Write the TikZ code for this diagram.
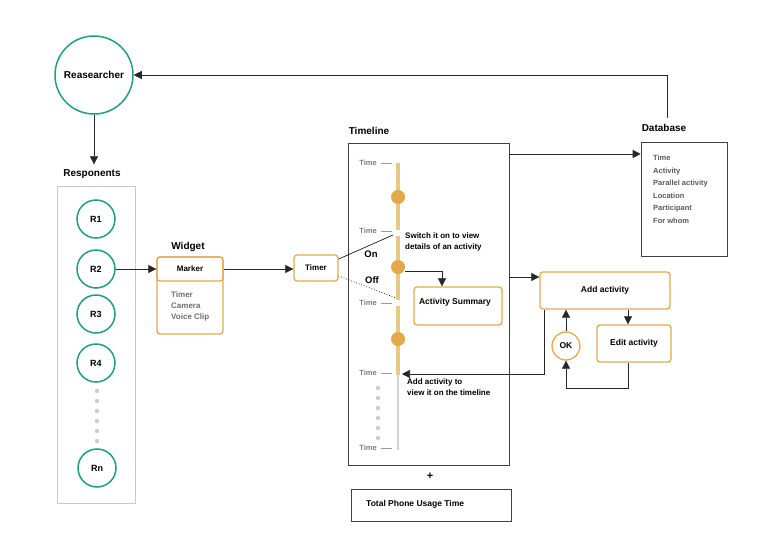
\documentclass[tikz,border=0pt]{standalone}
\usepackage{fontspec}
\setmainfont{Liberation Sans}
\usetikzlibrary{arrows.meta}
\definecolor{tealc}{HTML}{1E9E82}
\definecolor{orng}{HTML}{E2A94A}
\definecolor{barc}{HTML}{EBC689}
\definecolor{grytxt}{HTML}{6E6E6E}
\definecolor{grybox}{HTML}{C9C9C9}
\begin{document}
\begin{tikzpicture}[x=1pt,y=-1pt,
  fs/.style={font=\bfseries\fontsize{#1}{\fpeval{1.4*#1}}\selectfont},
  circ/.style={circle, draw=tealc, line width=1.5pt, inner sep=0pt, fs=9},
  obox/.style={draw=orng, line width=1.3pt, rounded corners=3pt, inner sep=0pt},
  kbox/.style={draw=black!75, line width=0.6pt, inner sep=0pt},
  arr/.style={-{Triangle[length=8pt,width=8pt]}, line width=0.6pt, draw=black!85},
  tlab/.style={fs=7.5, text=grytxt!90, inner sep=0pt},
  tick/.style={draw=grytxt!70, line width=0.6pt},
  gdot/.style={circle, fill=black!20, inner sep=0pt, minimum size=4.5pt},
  odot/.style={circle, fill=orng, inner sep=0pt, minimum size=14pt},
  title/.style={fs=10, inner sep=0pt}]
\useasboundingbox (0,0) rectangle (778,554);

% Researcher
\node[circ, minimum size=78pt, fs=10] (res) at (94,75) {Reasearcher};
\node[title] (resp) at (92,174) {Responents};
\draw[arr] (res.south) -- ([yshift=5pt]res.south |- resp.north);

% Respondents
\node[draw=grybox, line width=0.8pt, minimum width=78pt, minimum height=317pt, inner sep=0pt] (rbox) at (96,344.5) {};
\node[circ, minimum size=38pt] (r1) at (96,219) {R1};
\node[circ, minimum size=38pt] (r2) at (96,269) {R2};
\node[circ, minimum size=38pt] (r3) at (96,314) {R3};
\node[circ, minimum size=38pt] (r4) at (96,363) {R4};
\foreach \i/\y in {1/391,2/401,3/411,4/421,5/431,6/441} \node[gdot] (rd\i) at (97,\y) {};
\node[circ, minimum size=38pt] (rn) at (97,468) {Rn};

% Widget
\node[title] (wlab) at (188,247) {Widget};
\node[obox, minimum width=66pt, minimum height=77pt] (wbox) at (190,295.5) {};
\node[obox, minimum width=66pt, minimum height=24pt, fs=8] (marker) at (190,269) {Marker};
\node[fs=8, text=grytxt, anchor=north west, align=left, inner sep=0pt] (wlist) at (171,291) {Timer\\Camera\\Voice Clip};
\draw[arr] (r2.east) -- (r2.east -| marker.west);

% Timer
\node[obox, minimum width=44pt, minimum height=26pt, fs=8] (timer) at (316,268) {Timer};
\draw[arr] (marker.east) -- (marker.east -| timer.west);

% Timeline
\node[title] (tllab) at (369,131) {Timeline};
\node[kbox, minimum width=161pt, minimum height=322pt] (tl) at (428.5,304) {};
\draw[draw=barc, line width=4.5pt] (398,163) -- (398,230);
\draw[draw=barc, line width=4.5pt] (398,236) -- (398,300);
\draw[draw=barc, line width=4.5pt] (398,306) -- (398,375);
\draw[draw=black!18, line width=1.2pt] (398,375) -- (398,450);
\node[odot] (d1) at (398,197) {};
\node[odot] (d2) at (398,267) {};
\node[odot] (d3) at (398,339) {};
\foreach \i/\y in {1/163,2/231,3/303,4/373,5/448}{
  \node[tlab, anchor=east] (t\i) at (377,\y) {Time};
  \draw[tick] ([xshift=4pt]t\i.east) -- ++(11,0);
}
\foreach \i/\y in {1/388,2/398,3/408,4/418,5/428,6/438} \node[gdot] (td\i) at (378,\y) {};

\node[fs=8, anchor=north west, align=left, inner sep=0pt] (sw) at (405,232) {Switch it on to view\\details of an activity};
\node[fs=9.5, inner sep=0pt] (on) at (371,254) {On};
\node[fs=9.5, inner sep=0pt] (off) at (372,280) {Off};
\coordinate (swon) at (393,235);
\coordinate (swoff) at (396,298);
\draw[line width=0.6pt] ([yshift=9pt]timer.east) -- (swon);
\draw[line width=0.7pt, dotted] ([yshift=-8pt]timer.east) -- (swoff);

% Activity summary
\node[obox, minimum width=88pt, minimum height=38pt] (as) at (458,306) {};
\node[fs=8.5, inner sep=0pt] (astxt) at (455,302) {Activity Summary};
\draw[arr] ([yshift=-4pt]d2.east) -| ([xshift=-16pt]as.north);

\node[fs=8, anchor=north west, align=left, inner sep=0pt] (addt) at (407,378) {Add activity to\\view it on the timeline};

% Database
\node[title] (dblab) at (664,128) {Database};
\node[kbox, minimum width=86pt, minimum height=114pt] (db) at (684,199) {};
\node[fs=7.5, text=grytxt!80!black, anchor=north west, align=left, inner sep=0pt] (dbtxt) at (653,155)
  {Time\\[2pt]Activity\\[2pt]Parallel activity\\[2pt]Location\\[2pt]Participant\\[2pt]For whom};
\coordinate (dbtop) at (667,118);
\draw[arr] (dbtop) |- (res.east);
\coordinate (y154) at (0,154);
\draw[arr] (tl.east |- y154) -- (db.west |- y154);

% Add / Edit activity
\node[obox, minimum width=130pt, minimum height=37pt, fs=8.5] (addact) at (605,290.5) {Add activity};
\node[obox, minimum width=74pt, minimum height=37pt, fs=8.5] (edit) at (634,343.5) {Edit activity};
\node[circle, draw=orng, line width=1.3pt, minimum size=28pt, inner sep=0pt, fs=8.5] (ok) at (566,346) {OK};
\coordinate (y277) at (0,277);
\draw[arr] (tl.east |- y277) -- (addact.west |- y277);
\draw[arr] ([xshift=-6pt]edit.north |- addact.south) -- ([xshift=-6pt]edit.north);
\draw[arr] (ok.north) -- (ok.north |- addact.south);
\draw[arr] ([xshift=-6pt]edit.south) -- ++(0,26) -| (ok.south);
\coordinate (bar374) at (402,374);
\draw[arr] ([xshift=5pt]addact.south west) |- (bar374);

% Total
\node[fs=11, inner sep=0pt] (plus) at (430,476) {+};
\node[kbox, minimum width=160pt, minimum height=32pt] (tot) at (431,505) {};
\node[fs=8.5, anchor=west, inner sep=0pt] (tottxt) at (366,504) {Total Phone Usage Time};
\end{tikzpicture}
\end{document}
